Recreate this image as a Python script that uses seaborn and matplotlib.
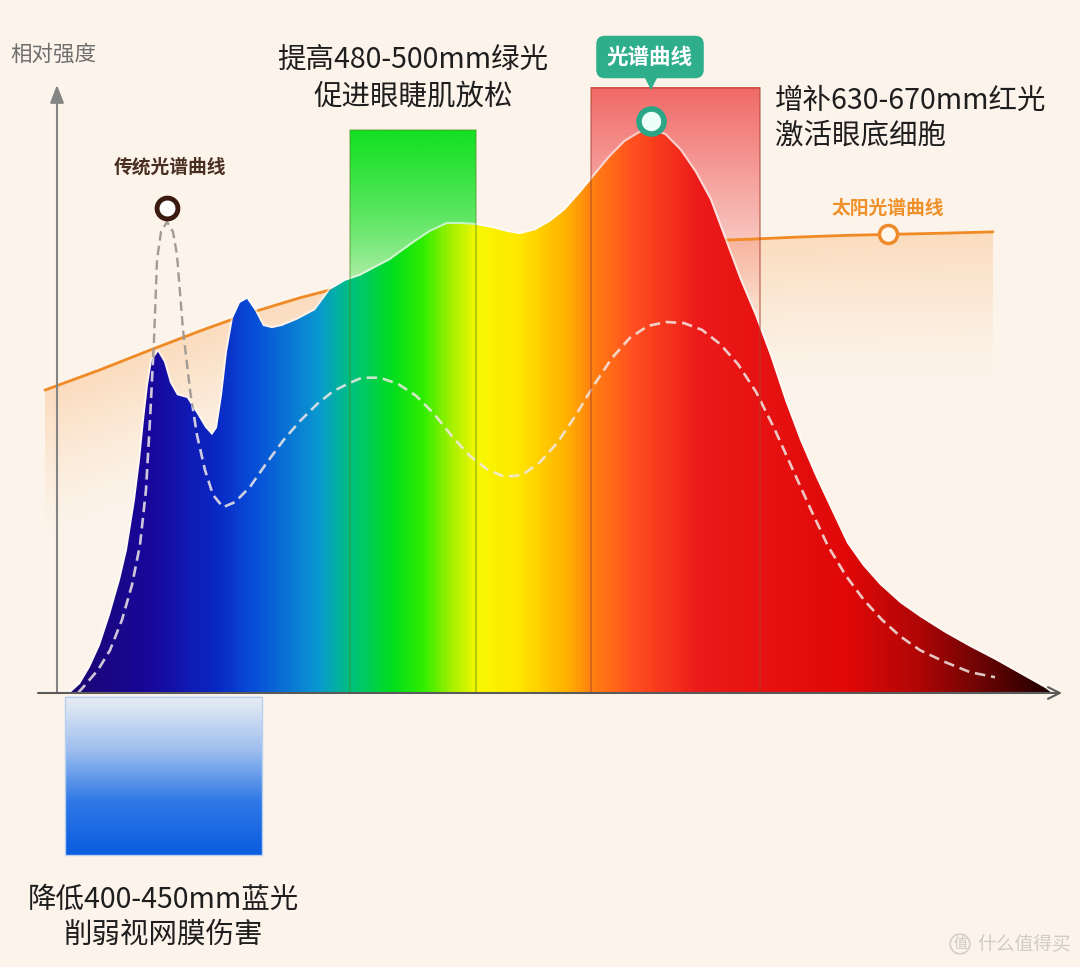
import matplotlib
matplotlib.use("Agg")
import matplotlib.pyplot as plt
import numpy as np
import seaborn as sns
from matplotlib.colors import LinearSegmentedColormap, to_rgb
from matplotlib.patches import Rectangle

# LED spectrum: wavelength (nm) vs relative intensity (peak = 100)
SPEC_WL = [390.0, 394.0, 398.0, 402.0, 406.0, 410.0, 412.8, 416.0, 418.0, 419.6,
           421.2, 422.8, 425.2, 427.6, 430.0, 432.8, 436.8, 440.8, 444.0, 446.8,
           448.8, 450.8, 452.8, 455.2, 458.0, 460.8, 464.0, 467.2, 470.8, 474.8,
           480.8, 488.0, 494.0, 500.0, 506.0, 512.0, 518.0, 522.0, 528.0, 534.0,
           540.8, 546.8, 552.8, 558.8, 564.8, 570.0, 576.0, 582.0, 588.0, 594.0,
           600.0, 606.0, 612.0, 618.0, 622.8, 628.0, 634.0, 640.0, 646.0, 652.0,
           658.0, 664.0, 670.0, 676.0, 682.0, 688.0, 694.0, 700.8, 707.2, 714.0,
           722.0, 730.0, 740.0, 750.0, 760.0, 770.0, 780.0, 782.8]
SPEC_VAL = [0.0, 1.6, 4.6, 8.5, 13.9, 20.1, 25.4, 34.3, 41.4, 48.5,
            54.7, 59.1, 60.6, 58.8, 55.1, 52.9, 52.4, 49.6, 47.2, 45.8,
            47.1, 52.9, 60.6, 66.6, 69.3, 70.0, 67.9, 65.2, 64.8, 65.2,
            66.3, 68.0, 71.6, 73.2, 74.1, 75.5, 76.9, 78.2, 80.1, 81.9,
            83.3, 83.3, 83.1, 82.6, 81.9, 81.5, 82.2, 83.7, 85.8, 88.8,
            92.0, 95.2, 97.9, 99.5, 100.0, 99.1, 96.4, 92.5, 87.6, 80.5,
            73.4, 67.1, 60.0, 52.0, 44.9, 38.7, 33.0, 26.6, 22.6, 19.2,
            16.0, 13.5, 10.7, 8.2, 5.9, 3.4, 0.9, 0.0]

# traditional LED spectrum (dashed)
TRAD_WL = [393.2, 396.0, 401.2, 406.0, 410.8, 414.8, 418.0, 420.4, 422.0, 423.6,
           424.8, 426.4, 428.8, 431.2, 432.8, 435.2, 438.0, 440.8, 444.0, 447.2,
           451.2, 456.0, 462.0, 468.4, 475.2, 482.0, 488.8, 495.2, 502.0, 506.8,
           514.0, 521.2, 528.4, 535.6, 542.8, 550.0, 557.2, 564.0, 570.8, 578.0,
           585.2, 592.4, 599.6, 606.8, 614.0, 621.2, 628.4, 635.6, 642.8, 650.0,
           657.2, 664.4, 671.6, 678.8, 686.0, 693.2, 700.4, 707.6, 714.8, 722.0,
           730.0, 740.0, 750.0, 760.0]
TRAD_VAL = [0.0, 1.4, 4.1, 7.6, 13.0, 19.2, 26.3, 36.1, 48.5, 62.7,
            76.9, 81.9, 83.7, 81.9, 77.8, 64.5, 53.8, 45.8, 39.6, 35.2,
            33.0, 33.9, 36.6, 40.7, 44.8, 48.3, 51.3, 53.6, 55.1, 56.0,
            56.0, 54.9, 52.8, 49.6, 45.6, 42.1, 39.6, 38.4, 38.7, 41.0,
            44.6, 49.4, 54.7, 59.5, 63.1, 65.2, 65.9, 65.7, 64.5, 62.0,
            58.4, 53.5, 47.1, 40.0, 32.9, 26.1, 20.8, 16.5, 13.0, 10.1,
            7.6, 5.5, 3.7, 2.8]

# solar spectrum
SUN_WL = [380.0, 402.0, 422.0, 442.0, 462.0, 482.0, 502.0, 522.0, 542.0, 562.0,
          582.0, 602.0, 622.0, 642.0, 662.0, 682.0, 702.0, 722.0, 742.0, 759.2]
SUN_VAL = [53.8, 57.4, 60.9, 64.3, 67.5, 70.2, 72.5, 74.6, 76.2, 77.4,
           78.3, 79.0, 79.8, 80.3, 80.6, 81.0, 81.3, 81.5, 81.7, 81.9]

# highlighted bands (nm range, drawn height)
BLUE_BAND = (388.0, 466.8, -0.7, -28.8)
GREEN_BAND = (502.0, 552.4, 0.0, 100.0)
RED_BAND = (598.4, 666.0, 0.0, 107.5)

TRAD_MARK = (428.8, 86.1)
SPEC_MARK = (622.4, 101.6)
SUN_MARK = (717.2, 81.5)

SPEC_STOPS_WL = [390, 422, 448, 464, 488.8, 502, 518, 531.2, 542, 552.8,
                 568.8, 588.8, 599.2, 615.2, 642, 702, 730, 754, 782.8]
SPEC_STOPS_COL = ["#1c0672", "#18089c", "#0a28c4", "#0850d8", "#0a98d0", "#00c080",
                  "#00dd20", "#30ee00", "#a0f000", "#f8f800", "#ffe800", "#ffb000",
                  "#ff8010", "#ff5020", "#ec1a1a", "#e00808", "#b00606", "#700404",
                  "#200000"]

BG = "#fcf4ea"

sns.set_theme(style="white")
plt.rcParams["font.family"] = ["Noto Sans CJK SC", "DejaVu Sans"]

fig = plt.figure(figsize=(10.8, 9.67), dpi=100, facecolor=BG)
ax = fig.add_axes([0, 0, 1, 1])
ax.set_facecolor(BG)


def fpos(x, y):
    return x / 1080, 1 - y / 967


def rgba_column(color, alpha):
    arr = np.zeros((len(alpha), 1, 4))
    arr[..., :3] = to_rgb(color)
    arr[..., 3] = alpha[:, None]
    return arr


# sun glow under the solar curve
gx = np.linspace(SUN_WL[0], SUN_WL[-1], 400)
gy = np.linspace(20, 85, 300)
GX, GY = np.meshgrid(gx, gy)
d = np.interp(GX, SUN_WL, SUN_VAL) - GY
glow = np.zeros(GX.shape + (4,))
glow[..., :3] = to_rgb("#fbcfa6")
glow[..., 3] = np.clip(1 - d / 26, 0, 1) ** 1.3 * (d >= 0) * 0.65
ax.imshow(glow, extent=[gx[0], gx[-1], gy[0], gy[-1]], origin="lower",
          aspect="auto", zorder=1, interpolation="bilinear")

# green band
x0, x1, y0, y1 = GREEN_BAND
h = np.linspace(y0, y1, 200)
a = 0.06 + 0.94 * np.clip((h - 70) / (y1 - 70), 0, 1) ** 0.6
ax.imshow(rgba_column("#12e022", a), extent=[x0, x1, y0, y1], origin="lower",
          aspect="auto", zorder=1.5)

# red band
x0, x1, y0, y1 = RED_BAND
h = np.linspace(y0, y1, 200)
a = 0.85 * np.clip((h - 62) / (y1 - 62), 0, 1) ** 1.2
ax.imshow(rgba_column("#ef5050", a), extent=[x0, x1, y0, y1], origin="lower",
          aspect="auto", zorder=1.5)

# blue band below the axis
x0, x1, y0, y1 = BLUE_BAND
bcm = LinearSegmentedColormap.from_list("b", ["#0b5ce0", "#2f78e6", "#9fbfee", "#eaeef4"])
ax.imshow(np.linspace(0, 1, 200)[:, None], cmap=bcm, extent=[x0, x1, y1, y0],
          origin="lower", aspect="auto", zorder=1.5)
ax.add_patch(Rectangle((x0, y1), x1 - x0, y0 - y1, fill=False, ec="#b8d0f0", lw=1, zorder=1.6))

# solar curve
sns.lineplot(x=SUN_WL, y=SUN_VAL, ax=ax, color="#ef8a24", lw=2, zorder=2)

# traditional curve, grey part outside the spectrum
sns.lineplot(x=TRAD_WL, y=TRAD_VAL, ax=ax, color="#a39b94", lw=1.7, zorder=2.9)
ax.lines[-1].set_dashes((4, 2.2))

# main spectrum with rainbow gradient
poly = ax.fill_between(SPEC_WL, 0, SPEC_VAL, color="none", lw=0)
sns.lineplot(x=SPEC_WL, y=SPEC_VAL, ax=ax, color="white", lw=3, alpha=0.6, zorder=2.8)
pos = (np.array(SPEC_STOPS_WL) - SPEC_STOPS_WL[0]) / (SPEC_STOPS_WL[-1] - SPEC_STOPS_WL[0])
scm = LinearSegmentedColormap.from_list("spec", list(zip(pos, SPEC_STOPS_COL)))
im = ax.imshow(np.linspace(0, 1, 600)[None, :], cmap=scm,
               extent=[SPEC_STOPS_WL[0], SPEC_STOPS_WL[-1], 0, max(SPEC_VAL) + 1],
               aspect="auto", zorder=3, interpolation="bilinear")
im.set_clip_path(poly.get_paths()[0], transform=ax.transData)

# traditional curve, light part inside the spectrum
sns.lineplot(x=TRAD_WL, y=TRAD_VAL, ax=ax, color="#f1e9e6", lw=1.9, alpha=0.85, zorder=4)
inner = ax.lines[-1]
inner.set_dashes((4, 2.2))
inner.set_clip_path(poly.get_paths()[0], transform=ax.transData)

# band outlines
x0, x1, y0, y1 = GREEN_BAND
ax.add_patch(Rectangle((x0, y0), x1 - x0, y1 - y0, fill=False, ec="#4f8a1e", lw=1.2, alpha=0.45, zorder=5))
x0, x1, y0, y1 = RED_BAND
ax.add_patch(Rectangle((x0, y0), x1 - x0, y1 - y0, fill=False, ec="#a8402c", lw=1.2, alpha=0.55, zorder=5))

# axes arrows
ax.annotate("", xy=(384.8, 108.0), xytext=(384.8, 0),
            arrowprops=dict(arrowstyle="-|>,head_width=0.35,head_length=0.9",
                            color="#858585", lw=1.5, shrinkA=0, shrinkB=0), zorder=6)
ax.annotate("", xy=(786.8, 0), xytext=(377.2, 0),
            arrowprops=dict(arrowstyle="->,head_width=0.35,head_length=0.7",
                            color="#5a5a5a", lw=1.5, shrinkA=0, shrinkB=0), zorder=6)

# markers
ax.plot(*TRAD_MARK, "o", ms=15, mfc="white", mec="#3b1a10", mew=3.5, zorder=7)
ax.plot(*SPEC_MARK, "o", ms=18, mfc="#ecfff8", mec="#2aa585", mew=4, zorder=7)
ax.plot(*SUN_MARK, "o", ms=13, mfc="#fff6ec", mec="#ef8a2a", mew=2.5, zorder=7)
ax.plot(SPEC_MARK[0], 108.3, marker="v", ms=10, color="#2fae8c", mew=0, zorder=7)

ax.set_xlim(362, 794)
ax.set_ylim(-48.67, 123.09)
ax.axis("off")

# texts
fig.text(*fpos(10, 55), "相对强度", fontsize=15.5, color="#6e6e6e", va="center")
fig.text(*fpos(170, 167), "传统光谱曲线", fontsize=13.5, color="#4a2e22",
         weight="bold", ha="center", va="center")
fig.text(*fpos(413, 60), "提高480-500mm绿光", fontsize=20.5, color="#1e1e1e",
         ha="center", va="center")
fig.text(*fpos(413, 97), "促进眼睫肌放松", fontsize=20.5, color="#1e1e1e",
         ha="center", va="center")
fig.text(*fpos(650, 57), "光谱曲线", fontsize=15.5, color="white", weight="bold",
         ha="center", va="center",
         bbox=dict(boxstyle="round,pad=0.5,rounding_size=0.4", fc="#2fae8c", ec="none"))
fig.text(*fpos(775, 101), "增补630-670mm红光", fontsize=20.5, color="#1e1e1e", va="center")
fig.text(*fpos(775, 136), "激活眼底细胞", fontsize=20.5, color="#1e1e1e", va="center")
fig.text(*fpos(888, 208), "太阳光谱曲线", fontsize=13.5, color="#f0902a",
         weight="bold", ha="center", va="center")
fig.text(*fpos(163, 900), "降低400-450mm蓝光", fontsize=20.5, color="#1e1e1e",
         ha="center", va="center")
fig.text(*fpos(163, 935), "削弱视网膜伤害", fontsize=20.5, color="#1e1e1e",
         ha="center", va="center")

# watermark
fig.text(*fpos(960, 944), "值", fontsize=10, color="#cdc8c3", ha="center", va="center",
         bbox=dict(boxstyle="circle,pad=0.2", fc="none", ec="#d4cfca", lw=1.2))
fig.text(*fpos(977, 944), "什么值得买", fontsize=13.5, color="#d0cbc6", va="center")

fig.savefig("out.png", dpi=100, facecolor=BG)
